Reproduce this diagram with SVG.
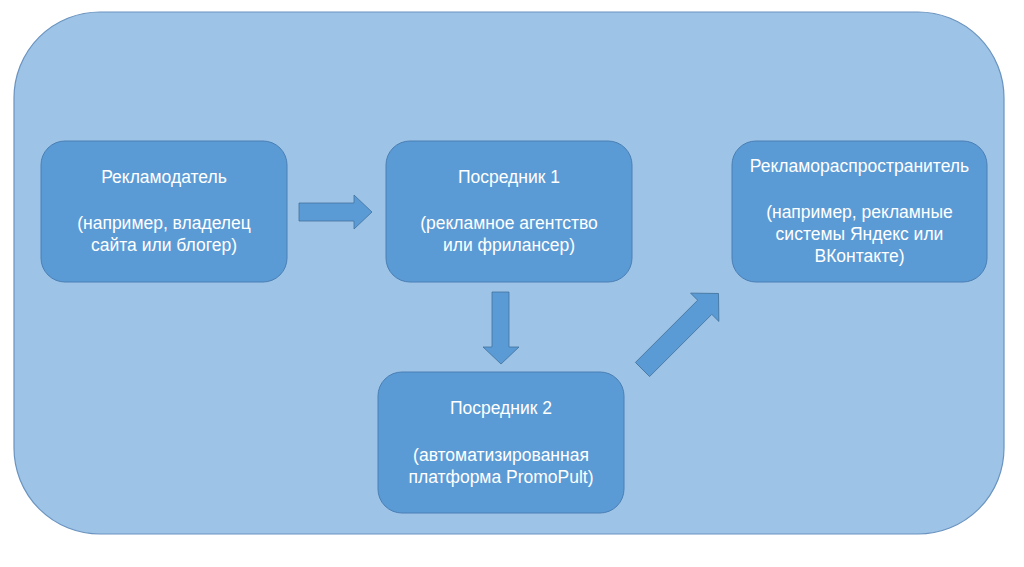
<svg xmlns="http://www.w3.org/2000/svg" width="1024" height="567" viewBox="0 0 1024 567">
<style>
.node{fill:#5B9BD5;stroke:#4A7FB5;stroke-width:1}
.t{fill:#FFFFFF;font-family:"Liberation Sans","DejaVu Sans",sans-serif;font-size:17.5px;text-anchor:middle}
.arr{fill:#5B9BD5;stroke:#41719C;stroke-width:0.8}
</style>
<rect width="1024" height="567" fill="#FFFFFF"/>
<g id="background">
<rect x="14" y="12" width="990" height="522" rx="86" ry="86" fill="#9DC3E6" stroke="#6A93BF" stroke-width="1.2"/>
</g>
<g id="node-advertiser">
<rect class="node" x="41" y="141" width="246" height="141" rx="24" ry="24"/>
<text class="t" x="164" y="183">Рекламодатель</text>
<text class="t" x="164" y="229">(например, владелец</text>
<text class="t" x="164" y="251">сайта или блогер)</text>
</g>
<g id="node-intermediary1">
<rect class="node" x="386" y="141" width="246" height="141" rx="24" ry="24"/>
<text class="t" x="509" y="183">Посредник 1</text>
<text class="t" x="509" y="229">(рекламное агентство</text>
<text class="t" x="509" y="251">или фрилансер)</text>
</g>
<g id="node-distributor">
<rect class="node" x="732" y="141" width="255" height="141" rx="24" ry="24"/>
<text class="t" x="859.5" y="172">Рекламораспространитель</text>
<text class="t" x="859.5" y="218">(например, рекламные</text>
<text class="t" x="859.5" y="240">системы Яндекс или</text>
<text class="t" x="859.5" y="262">ВКонтакте)</text>
</g>
<g id="node-intermediary2">
<rect class="node" x="378" y="372" width="246" height="141" rx="24" ry="24"/>
<text class="t" x="501" y="414">Посредник 2</text>
<text class="t" x="501" y="461">(автоматизированная</text>
<text class="t" x="501" y="483">платформа PromoPult)</text>
</g>
<g id="connectors">
<polygon class="arr" points="299,203 354,203 354,195 372,212 354,229 354,221 299,221"/>
<polygon class="arr" points="492,292 509,292 509,347 519,347 501,364 483,347 492,347"/>
<g transform="translate(642.5,369.5) rotate(-45)">
<polygon class="arr" points="0,-10 88,-10 88,-20 107.5,0 88,20 88,10 0,10"/>
</g>
</g>
</svg>
